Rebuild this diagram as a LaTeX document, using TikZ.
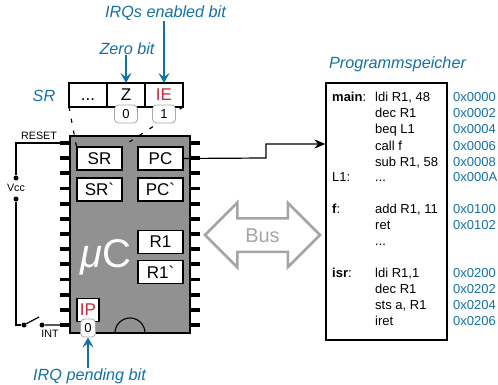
\documentclass[tikz,border=0pt]{standalone}
\usepackage{fontspec}
\setmainfont{Liberation Sans}
\newfontfamily\gravefont{Liberation Sans}
\usepackage{tikz}
\usetikzlibrary{arrows.meta,positioning,shapes.arrows}
\definecolor{hintblue}{RGB}{20,112,165}
\definecolor{chipgray}{RGB}{145,145,145}
\definecolor{busgray}{RGB}{165,165,165}
\definecolor{bitred}{RGB}{200,40,60}
\newcommand{\memdots}{.\kern0pt.\kern0pt.}
\newcommand{\shadowmark}{{\gravefont\symbol{96}}}
\begin{document}
\begin{tikzpicture}[x=1pt,y=-1pt,
		hint/.style={text=hintblue,font=\fontsize{16.2}{16.2}\selectfont\itshape,inner sep=0pt},
		hintarrow/.style={draw=hintblue,line width=1.4pt,-{Stealth[length=10pt,width=11pt,inset=4pt]}},
		cell/.style={draw=black,fill=white,line width=1.1pt,outer sep=0pt,minimum width=38pt,minimum height=24pt,inner sep=0pt,font=\fontsize{17}{17}\selectfont},
		reg/.style={draw=black,fill=white,line width=1.2pt,minimum width=45pt,minimum height=23pt,inner sep=0pt,font=\fontsize{17}{17}\selectfont},
		bitval/.style={draw=black!35,fill=white,rounded corners=4pt,line width=0.8pt,minimum height=18pt,inner sep=0pt,font=\fontsize{13}{13}\selectfont},
		pin/.style={fill=black,minimum width=10pt,minimum height=3.8pt,inner sep=0pt},
		dot/.style={circle,fill=black,inner sep=0pt,minimum size=5pt},
		small/.style={inner sep=0pt,font=\fontsize{10.7}{10.7}\selectfont},
		memtext/.style={anchor=base west,inner sep=0pt,font=\fontsize{13}{13}\selectfont},
		wire/.style={line width=1.2pt}]
	\useasboundingbox (0,0) rectangle (498,385);

	%chip with pins on both sides
	\node[draw=black,fill=chipgray,line width=1.1pt,minimum width=120pt,minimum height=197pt,inner sep=0pt] (chip) at (130,234.5) {};
	\foreach \i in {1,...,13} {
		\node[pin] (lpin\i) at (65,{143+15.17*(\i-1)}) {};
		\node[pin] (rpin\i) at (195,{143+15.17*(\i-1)}) {};
	}
	\draw[line width=1.1pt] (115,333) arc[start angle=180,end angle=360,radius=15];
	\node[text=white,inner sep=0pt,font=\fontsize{40}{40}\selectfont] (chipname) at (106,257) {\textit{μ}C};

	%status register above the chip
	\node[cell] (dots) at (88,95) {\vphantom{Z}\memdots};
	\node[cell] (zero) [right=0pt of dots] {Z};
	\node[cell,text=bitred] (enable) [right=0pt of zero] {IE};
	\node[hint] (srname) at (44,96) {SR};

	%registers inside the chip
	\node[reg] (sr) at (99.5,158.5) {SR};
	\node[reg] (srshadow) at (99.5,189.5) {SR\shadowmark};
	\node[reg] (pc) at (160.5,158.5) {PC};
	\node[reg] (pcshadow) at (160.5,189.5) {PC\shadowmark};
	\node[reg] (rone) at (160.5,242) {R1};
	\node[reg] (roneshadow) at (160.5,272) {R1\shadowmark};
	\node[reg,minimum width=22pt,text=bitred] (ip) at (88,310) {IP};

	\draw[wire,dash pattern=on 4pt off 8pt] (dots.south west) -- (sr.north west);
	\draw[wire,dash pattern=on 4pt off 8pt] (enable.south east) -- (sr.north east);

	\node[bitval,minimum width=23pt] (zeroval) at (126,114) {0};
	\node[bitval,minimum width=23pt] (enableval) at (164,114) {1};
	\node[bitval,minimum width=15pt] (ipval) at (88,328) {0};

	%reset and interrupt wiring
	\node[small] (reset) at (39,136) {RESET};
	\node[dot] (vccup) at (16,178) {};
	\node[small] (vcc) at (16,188) {Vcc};
	\node[dot] (vccdown) at (16,199) {};
	\node[dot] (swleft) at (24,325) {};
	\node[dot] (swright) at (42,325) {};
	\coordinate (swtip) at (39,317);
	\node[small] (int) at (50,334) {INT};
	\draw[wire] (lpin1.west) -| (vccup);
	\draw[wire] (vccdown) |- (swleft);
	\draw[wire] (swleft) -- (swtip);
	\draw[wire] (swright) -- (lpin13.west);

	%bus between chip and memory
	\node[draw=busgray,fill=white,text=busgray,line width=2.5pt,shape=double arrow,double arrow head extend=15.5pt,
		double arrow tip angle=90,minimum height=115pt,minimum width=62pt,inner sep=0pt,font=\fontsize{20}{20}\selectfont] (bus) at (262.5,235) {\rule[-8.3pt]{0pt}{31pt}Bus};

	%program memory
	\node[draw=black,fill=white,line width=1.2pt,minimum width=121pt,minimum height=257pt,inner sep=0pt] (mem) at (386.5,211.5) {};
	\node[hint] (memname) at (397.5,64) {Programmspeicher};
	\coordinate (memin) at (mem.west |- 0,144);
	\coordinate (pcbend) at (266,158);
	\draw[wire,-{Stealth[length=11pt,width=9pt]}] (pc.east) -- (pcbend) -- (pcbend |- memin) -- (memin);

	\foreach \y/\txt in {102/\textbf{main}:,182/L1:,213/\textbf{f}:,277/\textbf{isr}:}
		\node[memtext] (lbl\y) at (332,\y) {\txt};
	\foreach \y/\txt in {102/{ldi R1, 48},118/dec R1,134/beq L1,150/call f,166/{sub R1, 58},182/\memdots,
			213/{add R1, 11},229/ret,245/\memdots,277/{ldi R1,1},293/dec R1,309/{sts a, R1},325/iret}
		\node[memtext] (code\y) at (375,\y) {\txt};
	\foreach \y/\txt in {102/0x0000,118/0x0002,134/0x0004,150/0x0006,166/0x0008,182/0x000A,
			213/0x0100,229/0x0102,277/0x0200,293/0x0202,309/0x0204,325/0x0206}
		\node[memtext,text=hintblue] (addr\y) at (453,\y) {\txt};

	%hints with their arrows
	\node[hint] (ienote) at (165.5,13) {IRQs enabled bit};
	\node[hint] (zeronote) at (127,49) {Zero bit};
	\node[hint] (ipnote) at (89.5,376) {IRQ pending bit};
	\draw[hintarrow] (ienote.south -| enable) -- (enable.north);
	\draw[hintarrow] (zeronote.south -| zero) -- (zero.north);
	\draw[hintarrow] (ipnote.north -| ipval) -- (ipval.south);
\end{tikzpicture}
\end{document}
